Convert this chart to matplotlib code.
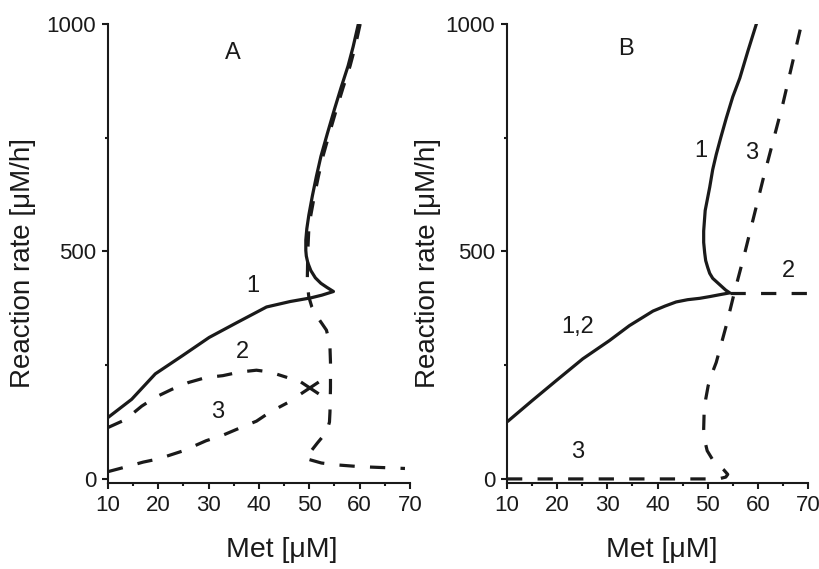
import matplotlib
matplotlib.use('Agg')
import matplotlib.pyplot as plt
from matplotlib.ticker import MultipleLocator

plt.rcParams['font.family'] = ['Liberation Sans', 'DejaVu Sans']
plt.rcParams['lines.scale_dashes'] = False

# ---- panel A data ----
# curve 1, solid: lower branch, fold at ~55, upper branch
a1_x = [10, 14.7, 19.4, 24.8, 30.1, 35.5, 41.5, 46.2, 50.3, 52.5, 54.8,
        53.5, 52.3, 51.2, 50.3, 49.7, 49.4, 49.3, 49.3, 49.5, 49.9, 50.6,
        51.4, 52.3, 53.6, 55.0, 56.3, 57.7, 58.7, 59.7]
a1_y = [135, 175, 231, 271, 311, 343, 378, 390, 398, 404, 412,
        421, 430, 442, 458, 475, 490, 502, 525, 550, 580, 622,
        665, 709, 760, 813, 860, 908, 950, 998]

# dashed S-shaped curve following the upper branch and dropping to the floor
as_x = [60.1, 59.1, 58.1, 56.7, 55.4, 54.0, 52.7, 51.8, 51.0, 50.3, 49.9, 49.7,
        49.6, 49.7, 49.9, 50.5, 51.6, 52.6, 53.4, 53.9, 54.1, 54.2, 54.2,
        54.1, 54.0, 53.6, 52.8, 51.6, 49.2, 52.4, 55.3, 60.0, 69.0]
as_y = [1000, 950, 908, 860, 813, 760, 709, 665, 622, 580, 550, 502,
        440, 420, 400, 378, 356, 340, 327, 305, 290, 257, 200,
        147, 125, 110, 95, 79, 45, 35, 31, 27, 23]

# curve 2 (dashed, ends in the small cross)
a2_x = [10, 13.4, 16.7, 19.5, 22.7, 26.0, 29.5, 32.8, 36.2, 39.5, 42.2, 45.6, 48.6, 51.6]
a2_y = [113, 130, 160, 180, 197, 212, 223, 227, 235, 239, 235, 223, 211, 189]

# curve 3 (dashed, ends in the small cross)
a3_x = [10, 13.4, 17.0, 20.0, 25.0, 29.5, 32.8, 36.2, 39.5, 42.2, 45.6, 48.6, 51.6]
a3_y = [16, 26, 37, 44, 62, 84, 96, 112, 127, 147, 167, 189, 211]

# ---- panel B data ----
b12_x = [10.3, 15.0, 19.8, 25.1, 30.4, 34.4, 39.1, 41.5, 43.7, 46.0, 48.4, 50.5, 52.4, 54.4,
         53.6, 53.0, 52.0, 51.0, 50.4, 50.0, 49.6, 49.4, 49.2, 49.2, 49.5, 50.4,
         51.0, 51.7, 52.6, 53.7, 55.0, 56.4, 58.0, 59.7]
b12_y = [128, 172, 216, 264, 304, 337, 369, 380, 389, 394, 397, 401, 405, 409,
         415, 421, 431, 441, 452, 465, 480, 497, 520, 545, 590, 641,
         680, 713, 750, 793, 840, 881, 940, 1000]

b2_x = [54.4, 70]
b2_y = [409, 409]

b3_x = [10, 20, 30, 40, 50, 52.5, 53.6, 54.0, 53.2, 52.2, 51.0, 49.9, 49.4, 49.2,
        49.3, 49.6, 50.1, 50.8, 51.7, 53.7, 55.3, 57.4, 61.0, 65.0, 68.7]
b3_y = [0, 0, 0, 0, 0, 1, 4, 10, 20, 30, 42, 62, 85, 110,
        150, 175, 205, 230, 256, 337, 409, 497, 657, 825, 1000]

a_labels = [('A', 34.8, 936), ('1', 38.7, 424), ('2', 36.8, 279), ('3', 31.8, 147)]
b_labels = [('B', 33.8, 945), ('1', 48.7, 721), ('3', 58.7, 717), ('2', 66.0, 457),
            ('1,2', 24.1, 333), ('3', 24.1, 60)]

lw = 2.3
dash = (0, (11, 11))
ink = '#1a1a1a'

fig = plt.figure(figsize=(8.2, 5.69), dpi=100)
axA = fig.add_axes([0.1317, 0.1511, 0.3683, 0.8067])
axB = fig.add_axes([0.6183, 0.1511, 0.3671, 0.8067])

# panel A
axA.plot(a1_x, a1_y, color=ink, lw=lw, solid_joinstyle='round')
axA.plot(as_x, as_y, color=ink, lw=lw, linestyle=dash)
axA.plot(a2_x[:-2], a2_y[:-2], color=ink, lw=lw, linestyle=dash)
axA.plot(a2_x[-2:], a2_y[-2:], color=ink, lw=lw)
axA.plot(a3_x[:-2], a3_y[:-2], color=ink, lw=lw, linestyle=dash)
axA.plot(a3_x[-2:], a3_y[-2:], color=ink, lw=lw)

# panel B
axB.plot(b12_x, b12_y, color=ink, lw=lw, solid_joinstyle='round')
axB.plot(b2_x, b2_y, color=ink, lw=lw, linestyle=dash)
axB.plot(b3_x, b3_y, color=ink, lw=lw, linestyle=dash)

for ax, labels, ylx, xlx in [(axA, a_labels, -0.281, 0.576), (axB, b_labels, -0.262, 0.515)]:
    ax.set_xlim(10, 70)
    ax.set_ylim(-9, 1000)
    ax.spines['top'].set_visible(False)
    ax.spines['right'].set_visible(False)
    for s in ['left', 'bottom']:
        ax.spines[s].set_linewidth(1.5)
        ax.spines[s].set_color(ink)
    ax.xaxis.set_major_locator(MultipleLocator(10))
    ax.xaxis.set_minor_locator(MultipleLocator(5))
    ax.yaxis.set_major_locator(MultipleLocator(500))
    ax.yaxis.set_minor_locator(MultipleLocator(250))
    ax.tick_params(which='major', direction='out', length=4.5, width=1.5,
                   labelsize=16, colors=ink, pad=4)
    ax.tick_params(which='minor', direction='out', length=2.5, width=1.5, colors=ink)
    ax.set_xlabel('Met [\u03bcM]', fontsize=20.5, color=ink, va='center')
    ax.set_ylabel('Reaction rate [\u03bcM/h]', fontsize=20, color=ink, va='center')
    ax.xaxis.set_label_coords(xlx, -0.146)
    ax.yaxis.set_label_coords(ylx, 0.48)
    for txt, x, y in labels:
        ax.text(x, y, txt, fontsize=17, color=ink, ha='center', va='center')

fig.savefig('out.png', dpi=100)
